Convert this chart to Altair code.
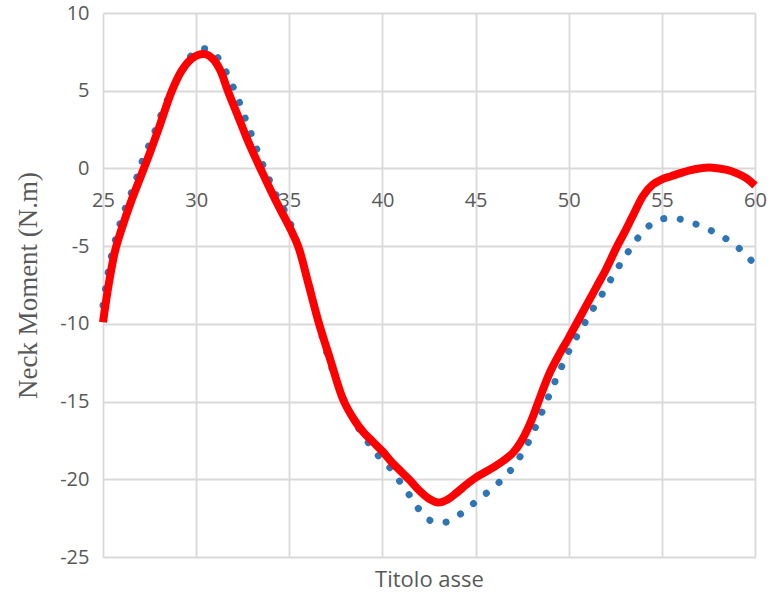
import altair as alt
import pandas as pd

# Measured neck moment (dotted blue) and simulated response (solid red)
x_dotted = [25.0, 25.4, 25.87, 26.14, 26.45, 26.75, 27.02, 27.35, 27.7, 28.0, 28.33, 28.69,
            29.1, 29.49, 30.12, 30.45, 30.92, 31.42, 31.82, 32.18, 32.48, 32.78, 33.1, 33.39,
            33.73, 34.06, 34.41, 34.86, 35.18, 35.5, 36.0, 36.5, 37.0, 37.63, 37.99, 38.35,
            38.8, 39.29, 39.83, 40.44, 40.94, 41.44, 41.92, 42.55, 43.37, 44.17, 44.84, 45.5,
            46.19, 46.79, 47.31, 47.76, 48.13, 48.49, 48.83, 49.17, 49.51, 49.89, 50.28, 50.73,
            51.14, 51.62, 52.07, 52.52, 52.98, 53.46, 54.0, 54.67, 55.52, 56.36, 57.19, 57.99,
            58.73, 59.41, 60.0]
y_dotted = [-8.8, -5.9, -3.72, -2.75, -1.79, -0.82, 0.19, 1.17, 2.12, 3.1, 4.05, 5.03,
            5.98, 6.9, 7.65, 7.7, 7.48, 6.62, 5.68, 4.69, 3.73, 2.76, 1.78, 0.79,
            -0.18, -1.1, -2.0, -2.97, -3.93, -5.1, -7.2, -9.6, -11.8, -14.0, -15.02, -15.95,
            -16.87, -17.72, -18.56, -19.31, -20.15, -21.0, -21.87, -22.64, -22.77, -22.25, -21.61, -20.97,
            -20.28, -19.55, -18.69, -17.79, -16.87, -15.88, -14.94, -13.97, -13.05, -12.04, -11.12, -10.22,
            -9.34, -8.44, -7.52, -6.63, -5.75, -4.9, -4.06, -3.4, -3.18, -3.4, -3.76, -4.21,
            -4.75, -5.43, -6.2]

x_solid = [25.0, 25.3, 25.65, 26.0, 26.5, 27.0, 27.5, 28.0, 28.7, 29.2, 29.7, 30.1, 30.5,
           30.9, 31.3, 31.7, 32.2, 32.7, 33.1, 33.45, 34.0, 34.5, 35.0, 35.5, 36.0, 36.6,
           37.2, 37.9, 38.5, 39.0, 39.5, 40.0, 40.5, 41.0, 41.5, 42.0, 42.5, 43.0, 43.5,
           44.0, 44.5, 45.0, 45.5, 46.0, 46.5, 47.0, 47.5, 48.0, 48.5, 49.0, 49.5, 50.0,
           50.5, 51.0, 51.5, 52.0, 52.6, 53.0, 53.5, 54.0, 54.5, 55.0, 55.5, 56.0, 56.5,
           57.0, 57.7, 58.5, 59.0, 59.5, 60.0]
y_solid = [-9.9, -7.5, -5.3, -3.9, -2.15, -0.6, 0.95, 2.6, 5.0, 6.25, 7.0, 7.3, 7.35,
           7.05, 6.3, 5.0, 3.5, 2.0, 0.9, 0.0, -1.4, -2.6, -3.75, -5.1, -7.3, -10.0,
           -12.3, -14.9, -16.2, -17.0, -17.6, -18.2, -18.9, -19.5, -20.1, -20.75, -21.25, -21.5, -21.3,
           -20.85, -20.35, -19.9, -19.55, -19.2, -18.8, -18.3, -17.45, -16.2, -14.6, -13.1, -11.95, -10.9,
           -9.8, -8.7, -7.6, -6.5, -5.0, -4.1, -2.9, -1.75, -1.05, -0.7, -0.5, -0.3, -0.12,
           0.0, 0.05, -0.1, -0.3, -0.6, -1.1]

x_ticks = [25, 30, 35, 40, 45, 50, 55, 60]
y_ticks = [10, 5, 0, -5, -10, -15, -20, -25]

dotted = pd.DataFrame({"t": x_dotted, "m": y_dotted})
solid = pd.DataFrame({"t": x_solid, "m": y_solid})

W, H = 652, 544
X_DOM = [25, 60]
Y_DOM = [-25, 10]
zero_from_bottom = H * (0 - Y_DOM[0]) / (Y_DOM[1] - Y_DOM[0])

label_font = "Open Sans"
grey = "#595959"
grid = "#D9D9D9"

x_enc = alt.X(
    "t:Q",
    scale=alt.Scale(domain=X_DOM, nice=False, zero=False),
    axis=alt.Axis(
        values=x_ticks,
        title="Titolo asse",
        offset=-zero_from_bottom,
        domain=False,
        ticks=False,
        labelPadding=22,
        labelFlush=False,
        labelOverlap=False,
        labelBound=False,
        labelExpr="toString(datum.value)",
        labelFont=label_font,
        labelFontSize=20,
        labelColor=grey,
        titleFont=label_font,
        titleFontSize=22,
        titleFontWeight="normal",
        titleColor=grey,
        titleY=zero_from_bottom + 29,
        titleBaseline="alphabetic",
        gridColor=grid,
        gridWidth=1.8,
    ),
)

y_enc = alt.Y(
    "m:Q",
    scale=alt.Scale(domain=Y_DOM, nice=False, zero=False),
    axis=alt.Axis(
        values=y_ticks,
        title="Neck Moment (N.m)",
        domain=False,
        ticks=False,
        labelPadding=14,
        labelFlush=False,
        labelOverlap=False,
        labelExpr="toString(datum.value)",
        labelFont=label_font,
        labelFontSize=20,
        labelColor=grey,
        titleFont="Liberation Serif",
        titleFontSize=27,
        titleFontWeight="normal",
        titleColor=grey,
        titlePadding=17,
        gridColor=grid,
        gridWidth=1.8,
    ),
)

blue = alt.Chart(dotted).mark_line(
    color="#2E75B6",
    strokeWidth=7,
    strokeCap="round",
    strokeDash=[0.1, 16.5],
    interpolate="catmull-rom",
).encode(x=x_enc, y=y_enc, order="t:Q")

red = alt.Chart(solid).mark_line(
    color="#FF0000",
    strokeWidth=8,
    strokeCap="butt",
    interpolate="catmull-rom",
).encode(x="t:Q", y="m:Q", order="t:Q")

chart = (
    alt.layer(blue, red)
    .properties(
        width=W,
        height=H,
        autosize=alt.AutoSizeParams(type="none"),
        padding={"left": 103, "top": 13, "right": 20, "bottom": 37},
    )
    .configure_view(stroke=None)
    .configure(background="white")
)

chart.save("out.html", embed_options={"renderer": "svg", "actions": False})
